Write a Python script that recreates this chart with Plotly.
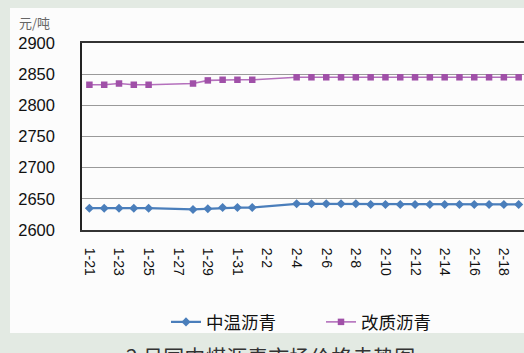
import plotly.graph_objects as go

dates = ["1-21", "1-22", "1-23", "1-24", "1-25", "1-26", "1-27", "1-28", "1-29", "1-30",
         "1-31", "2-1", "2-2", "2-3", "2-4", "2-5", "2-6", "2-7", "2-8", "2-9",
         "2-10", "2-11", "2-12", "2-13", "2-14", "2-15", "2-16", "2-17", "2-18", "2-19"]
tick_labels = dates[::2]

mid_temp = [2635, 2635, 2635, 2635, 2635, None, None, 2633, 2634, 2636,
            2636, 2636, None, None, 2642, 2642, 2642, 2642, 2642, 2641,
            2641, 2641, 2641, 2641, 2641, 2641, 2641, 2641, 2641, 2641]
modified = [2833, 2833, 2835, 2833, 2833, None, None, 2835, 2840, 2841,
            2841, 2841, None, None, 2845, 2845, 2845, 2845, 2845, 2845,
            2845, 2845, 2845, 2845, 2845, 2845, 2845, 2845, 2845, 2845]

CJK = "Noto Sans CJK SC"
NUM = "Liberation Sans"

fig = go.Figure()
fig.add_trace(go.Scatter(
    x=dates, y=mid_temp, name="中温沥青", mode="lines+markers", connectgaps=True,
    line=dict(color="#4a7ebb", width=2.2),
    marker=dict(symbol="diamond", size=7, color="#4a7ebb"),
))
fig.add_trace(go.Scatter(
    x=dates, y=modified, name="改质沥青", mode="lines+markers", connectgaps=True,
    line=dict(color="#b470bc", width=1.6),
    marker=dict(symbol="square", size=6.5, color="#a050a8"),
))

L, T, B = 82, 43, 123
W, H = 524, 353
pw, ph = W - L, H - T - B

def px(x):
    return (x - L) / pw

def py(y):
    return (H - B - y) / ph

fig.add_shape(type="rect", xref="paper", yref="paper", layer="below",
              x0=px(10), x1=px(530), y0=py(333), y1=py(8),
              fillcolor="#fcfcfc", line=dict(width=0))

fig.update_layout(
    width=W, height=H,
    margin=dict(l=L, r=0, t=T, b=B),
    paper_bgcolor="#e3eae3",
    plot_bgcolor="rgba(0,0,0,0)",
    showlegend=True,
    legend=dict(orientation="h", x=px(166), xanchor="left", y=py(322), yanchor="middle",
                font=dict(family=CJK, size=17.5, color="#111"), entrywidth=110,
                entrywidthmode="pixels",
                bgcolor="rgba(0,0,0,0)", tracegroupgap=0),
    xaxis=dict(
        type="category", categoryorder="array", categoryarray=dates,
        range=[-0.5, len(dates) - 0.5 - 0.14],
        tickmode="array", tickvals=tick_labels, ticktext=tick_labels,
        tickangle=90, tickfont=dict(family=NUM, size=14, color="#111"),
        ticks="outside", ticklen=13, tickcolor="rgba(0,0,0,0)",
        showgrid=False, showline=True, linecolor="#333", linewidth=2, mirror=True,
        zeroline=False,
    ),
    yaxis=dict(
        range=[2600, 2900], tickmode="array",
        tickvals=[2600, 2650, 2700, 2750, 2800, 2850, 2900],
        tickfont=dict(family=NUM, size=16.5, color="#111"),
        ticks="outside", ticklen=22, tickcolor="rgba(0,0,0,0)",
        showgrid=True, gridcolor="#9a9a9a", gridwidth=1,
        showline=True, linecolor="#222", linewidth=1.5,
        zeroline=False,
    ),
    annotations=[
        dict(text="元/吨", xref="paper", yref="paper", x=px(17), y=py(22),
             xanchor="left", yanchor="middle", showarrow=False,
             font=dict(family=CJK, size=13, color="#666")),
        dict(text="2 月国内煤沥青市场价格走势图", xref="paper", yref="paper",
             x=px(270), y=py(356), xanchor="center", yanchor="middle", showarrow=False,
             font=dict(family=CJK, size=21, color="#333")),
    ],
)

fig.write_html("out.html")
